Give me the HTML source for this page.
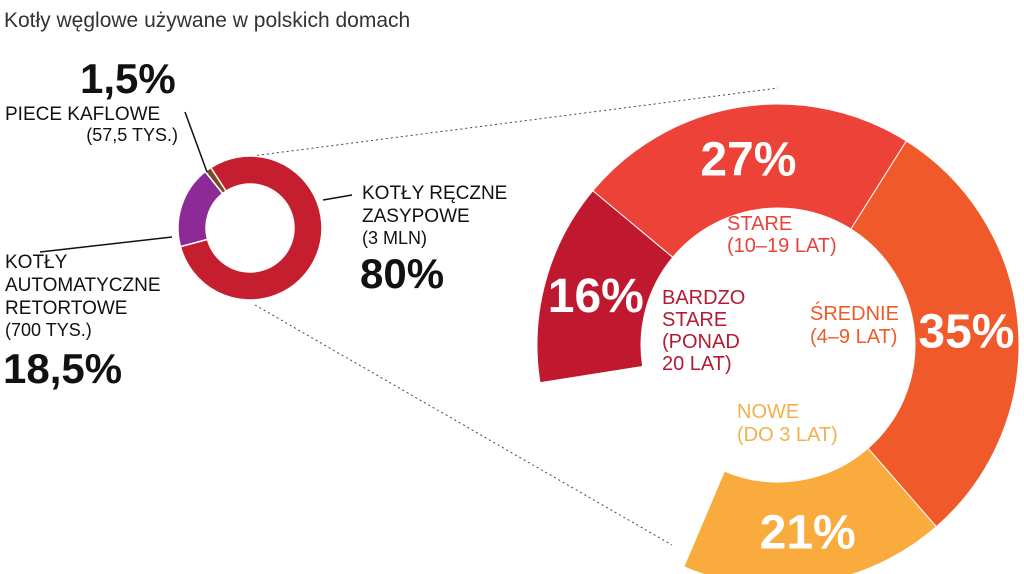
<!DOCTYPE html>
<html><head><meta charset="utf-8"><style>
body{margin:0;background:#fff;width:1024px;height:574px;overflow:hidden}
svg{display:block;font-family:"Liberation Sans",sans-serif}
</style></head><body>
<svg id="c" width="1024" height="574">
<text x="4" y="27" font-size="21" fill="#333">Kotły węglowe używane w polskich domach</text>
<line x1="252" y1="156" x2="778" y2="88" stroke="#444" stroke-width="1" stroke-dasharray="2,3"/>
<line x1="255" y1="305" x2="672" y2="545" stroke="#444" stroke-width="1" stroke-dasharray="2,3"/>
<g id="small"></g>
<g id="big"></g>
<line x1="185" y1="112" x2="207" y2="172" stroke="#111" stroke-width="1.5"/>
<line x1="323" y1="200" x2="352" y2="195" stroke="#111" stroke-width="1.5"/>
<line x1="40" y1="252" x2="172" y2="237" stroke="#111" stroke-width="1.5"/>
<g fill="#111">
<text x="80" y="93" font-size="42" font-weight="bold">1,5%</text>
<text x="5" y="120" font-size="19">PIECE KAFLOWE</text>
<text x="178" y="141" font-size="18" text-anchor="end">(57,5 TYS.)</text>
<text x="362" y="199" font-size="19">KOTŁY RĘCZNE</text>
<text x="362" y="222" font-size="19">ZASYPOWE</text>
<text x="362" y="244" font-size="18">(3 MLN)</text>
<text x="360" y="288" font-size="42" font-weight="bold">80%</text>
<text x="5" y="268" font-size="19">KOTŁY</text>
<text x="5" y="291" font-size="19">AUTOMATYCZNE</text>
<text x="5" y="314" font-size="19">RETORTOWE</text>
<text x="5" y="336" font-size="18">(700 TYS.)</text>
<text x="3" y="383" font-size="42" font-weight="bold">18,5%</text>
</g>
<g font-size="20">
<text x="727" y="230" fill="#e8433a">STARE</text>
<text x="727" y="252" fill="#e8433a">(10–19 LAT)</text>
<text x="662" y="304" fill="#b01c35">BARDZO</text>
<text x="662" y="326" fill="#b01c35">STARE</text>
<text x="662" y="348" fill="#b01c35">(PONAD</text>
<text x="662" y="370" fill="#b01c35">20 LAT)</text>
<text x="810" y="320" fill="#ee5a2a">ŚREDNIE</text>
<text x="810" y="343" fill="#ee5a2a">(4–9 LAT)</text>
<text x="737" y="418" fill="#f3b04a">NOWE</text>
<text x="737" y="441" fill="#f3b04a">(DO 3 LAT)</text>
</g>
</svg>
<script>
const smallCats=["reczne","auto","piece"];
const smallVals=[80,18.5,1.5];
const smallColors=["#c41e2f","#8e2a97","#7a4a24"];
const bigCats=["bardzo-stare","stare","srednie","nowe"];
const bigVals=[16,27,35,21];
const bigLabels=["16%","27%","35%","21%"];
const bigColors=["#c0192f","#ec4237","#f05a2a","#f9ac3d"];
const NS="http://www.w3.org/2000/svg";
function pt(cx,cy,r,a){const t=a*Math.PI/180;return[cx+r*Math.sin(t),cy-r*Math.cos(t)];}
function arc(cx,cy,r0,r1,a0,a1){
 const l=(a1-a0)>180?1:0;
 const p1=pt(cx,cy,r1,a0),p2=pt(cx,cy,r1,a1),p3=pt(cx,cy,r0,a1),p4=pt(cx,cy,r0,a0);
 return `M${p1}A${r1},${r1} 0 ${l} 1 ${p2}L${p3}A${r0},${r0} 0 ${l} 0 ${p4}Z`;}
// small donut: red from 327, total 360
(function(){const g=document.getElementById('small');let a=327;
 smallVals.forEach((v,i)=>{const s=v*3.6;const p=document.createElementNS(NS,'path');
 p.setAttribute('d',arc(250,228,44,72,a,a+s));p.setAttribute('fill',smallColors[i]);
 p.setAttribute('stroke','#fff');p.setAttribute('stroke-width','1.5');
 
 
 g.appendChild(p);a+=s;});})();
// big donut
(function(){const g=document.getElementById('big');let a=261;const k=302/99;
 bigVals.forEach((v,i)=>{const s=v*k;const p=document.createElementNS(NS,'path');
 p.setAttribute('d',arc(778,345,137,241,a,a+s));p.setAttribute('fill',bigColors[i]);
 p.setAttribute('stroke','#fff');p.setAttribute('stroke-width','1');
 
 
 g.appendChild(p);
 const m=pt(778,345,189,a+s/2);const t=document.createElementNS(NS,'text');
 t.setAttribute('x',m[0]);t.setAttribute('y',m[1]+17);t.setAttribute('text-anchor','middle');
 t.setAttribute('font-size','48');t.setAttribute('font-weight','bold');t.setAttribute('fill','#fff');
 t.textContent=bigLabels[i];
 
 
 g.appendChild(t);a+=s;});})();
</script>
</body></html>
